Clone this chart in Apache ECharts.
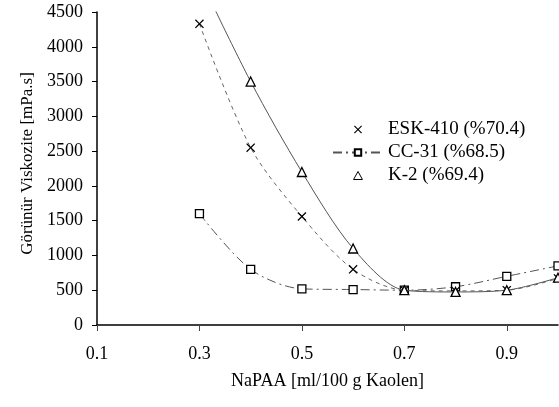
<!DOCTYPE html>
<html>
<head>
<meta charset="utf-8">
<script src="https://cdn.jsdelivr.net/npm/echarts@6/dist/echarts.min.js"></script>
<style>
  html, body { margin: 0; padding: 0; background: #fff; }
  #chart { width: 559px; height: 407px; }
</style>
</head>
<body>
<div id="chart"></div>
<script>
// NaPAA dosage (ml/100 g kaolin)
const napaa = [0.3, 0.4, 0.5, 0.6, 0.7, 0.8, 0.9, 1.0]
// apparent viscosity, mPa.s
const esk410 = [4330, 2550, 1560, 800, 500, 490, 500, 670]
const cc31 = [1600, 800, 520, 510, 500, 550, 700, 850]
const k2 = [5000, 3500, 2200, 1100, 500, 475, 500, 680]
const xTicks = [0.1, 0.3, 0.5, 0.7, 0.9]
const seriesNames = ['ESK-410 (%70.4)', 'CC-31 (%68.5)', 'K-2 (%69.4)']

const font = 'Liberation Serif'
const xMark = 'path://M0,1L1,0L5,4L9,0L10,1L6,5L10,9L9,10L5,6L1,10L0,9L4,5Z'
const triMark = 'path://M5,0L10,9L0,9Z'

function pairs(vals) {
  return napaa.map((x, i) => [x, vals[i]])
}

const chart = echarts.init(document.getElementById('chart'))
chart.setOption({
  animation: false,
  backgroundColor: '#fff',
  textStyle: { fontFamily: font, color: '#000' },
  grid: { left: 97, right: 1, top: 12, bottom: 82 },
  legend: {
    orient: 'vertical',
    left: 327,
    top: 114,
    itemWidth: 50,
    itemHeight: 8,
    itemGap: 2,
    textStyle: { fontFamily: font, fontSize: 19, color: '#000', lineHeight: 21 },
    data: [
      { name: seriesNames[0], icon: xMark },
      { name: seriesNames[1] },
      { name: seriesNames[2], icon: triMark, itemStyle: { color: '#fff', borderColor: '#000', borderWidth: 1 } }
    ]
  },
  xAxis: {
    type: 'value',
    min: 0.1,
    max: 1.0,
    interval: 0.2,
    name: 'NaPAA [ml/100 g Kaolen]',
    nameLocation: 'middle',
    nameGap: 47,
    nameTextStyle: { fontFamily: font, fontSize: 18, color: '#000' },
    axisLine: { lineStyle: { color: '#000', width: 1.5 } },
    axisTick: { show: true, length: 6, customValues: xTicks, lineStyle: { color: '#444' } },
    axisLabel: {
      customValues: xTicks,
      margin: 20,
      fontFamily: font,
      fontSize: 18,
      color: '#000',
      formatter: v => v.toFixed(1)
    },
    splitLine: { show: false }
  },
  yAxis: {
    type: 'value',
    min: 0,
    max: 4500,
    interval: 500,
    name: 'Görünür Viskozite [mPa.s]',
    nameLocation: 'middle',
    nameGap: 61,
    nameTextStyle: { fontFamily: font, fontSize: 17, color: '#000', padding: [0, 0, 0, 10] },
    axisLine: { show: true, lineStyle: { color: '#000', width: 1.5 } },
    axisTick: { show: true, length: 5, lineStyle: { color: '#000' } },
    axisLabel: {
      margin: 14,
      fontFamily: font,
      fontSize: 18,
      color: '#000',
      formatter: v => String(v)
    },
    splitLine: { show: false }
  },
  series: [
    {
      name: seriesNames[0],
      type: 'line',
      smooth: 0.3,
      clip: true,
      data: pairs(esk410),
      symbol: xMark,
      symbolSize: 9,
      itemStyle: { color: '#000' },
      lineStyle: { color: '#666', width: 1, type: [4, 4] },
      z: 3
    },
    {
      name: seriesNames[1],
      type: 'line',
      smooth: 0.3,
      clip: true,
      data: pairs(cc31),
      symbol: 'rect',
      symbolSize: 8,
      itemStyle: { color: '#fff', borderColor: '#000', borderWidth: 1.3 },
      lineStyle: { color: '#555', width: 1, type: [9, 4, 2, 4] },
      z: 2
    },
    {
      name: seriesNames[2],
      type: 'line',
      smooth: 0.3,
      clip: true,
      data: pairs(k2),
      symbol: 'triangle',
      symbolSize: 9,
      itemStyle: { color: '#fff', borderColor: '#000', borderWidth: 1.3 },
      lineStyle: { color: '#555', width: 1, type: 'solid' },
      z: 4
    }
  ]
})
</script>
</body>
</html>
